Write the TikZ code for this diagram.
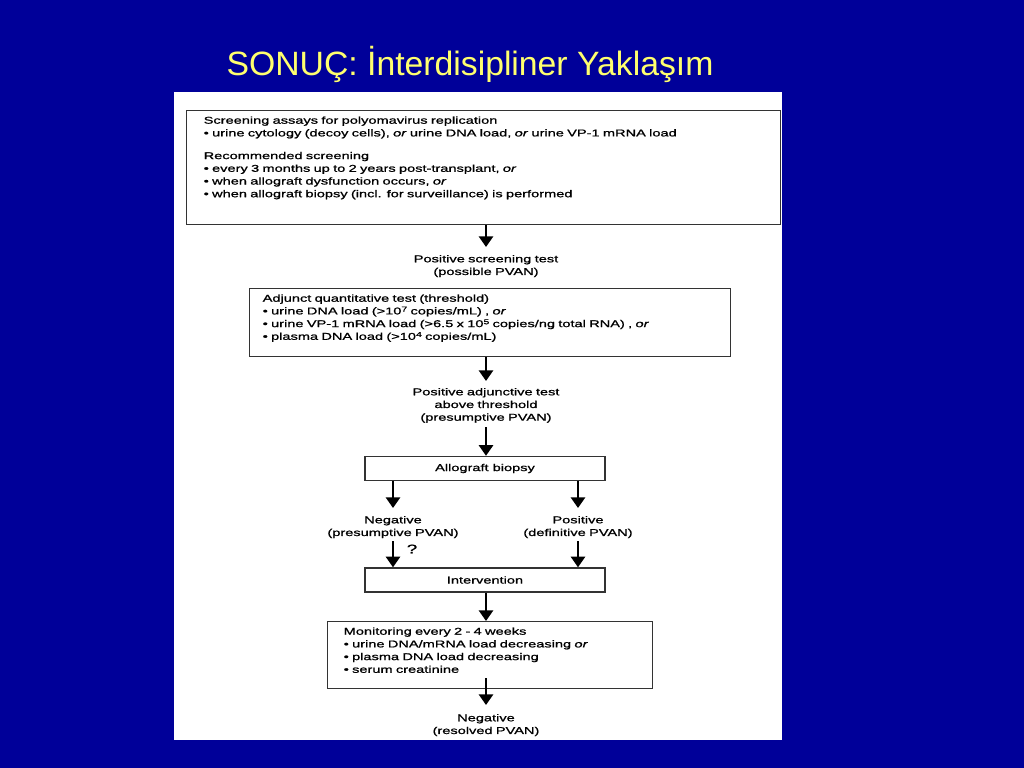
\documentclass[tikz,border=0pt]{standalone}
\usepackage{fontspec}
\usetikzlibrary{arrows.meta}
\newfontfamily\titlefont{Liberation Sans}
\newfontfamily\flowfont[FakeStretch=1.47,FakeBold=1]{Liberation Sans}
\newlength\px
\setlength\px{0.0248cm}
\definecolor{slideblue}{RGB}{0,0,153}
\definecolor{titleyellow}{RGB}{255,255,110}
\tikzset{
  slidetitle/.style={font=\titlefont\fontsize{23.8}{28}\selectfont, text=titleyellow, anchor=base, inner sep=0pt},
  txt/.style={font=\flowfont\fontsize{7}{8.96}\selectfont, inner sep=0pt},
  flowbox/.style={txt, draw=black!80, line width=1pt, anchor=north west, align=left, inner xsep=16\px, inner ysep=0pt, text height=13\px},
  smallbox/.style={txt, draw=black!80, line width=1pt, minimum width=240\px, minimum height=24\px},
  lbl/.style={txt, align=center, text width=200\px, anchor=north, text height=7\px},
  arr/.style={line width=1.5pt, -{Triangle[width=10pt,length=7.5pt]}}
}
\newcommand\supnum[1]{\raisebox{0.55ex}{\fontsize{5}{5}\selectfont #1}}
\begin{document}
\begin{tikzpicture}[x=1\px, y=-1\px]
  % slide and scanned page
  \fill[slideblue] (0,0) rectangle (1024,768);
  \fill[white] (174,92) rectangle (782,740);
  \node[slidetitle] (ttl) at (470,76) {SONUÇ: İnterdisipliner Yaklaşım};

  % boxes
  \node[flowbox, inner xsep=17\px, text width=560\px, text depth=101\px] (screen) at (186,110) {Screening assays for polyomavirus replication\\
    \textbullet\ urine cytology (decoy cells), \textit{or} urine DNA load, \textit{or} urine VP-1 mRNA load\\[10\px]
    Recommended screening\\
    \textbullet\ every 3 months up to 2 years post-transplant, \textit{or}\\
    \textbullet\ when allograft dysfunction occurs, \textit{or}\\
    \textbullet\ when allograft biopsy (incl. for surveillance) is performed};
  \node[lbl] (pos1) at (486,255) {Positive screening test\\(possible PVAN)};
  \node[flowbox, inner xsep=13\px, text width=455\px, text depth=55\px] (adj) at (249,288) {Adjunct quantitative test (threshold)\\
    \textbullet\ urine DNA load (>10\supnum{7} copies/mL) , \textit{or}\\
    \textbullet\ urine VP-1 mRNA load (>6.5 x 10\supnum{5} copies/ng total RNA) , \textit{or}\\
    \textbullet\ plasma DNA load (>10\supnum{4} copies/mL)};
  \node[lbl] (pos2) at (486,388) {Positive adjunctive test\\above threshold\\(presumptive PVAN)};
  \node[smallbox] (biop) at (485,468.5) {Allograft biopsy};
  \node[lbl] (neg) at (393,516) {Negative\\(presumptive PVAN)};
  \node[lbl] (pos) at (578,516) {Positive\\(definitive PVAN)};
  \node[txt, font=\flowfont\fontsize{9}{10}\selectfont] (q) at (412,549) {?};
  \node[smallbox] (inter) at (485,580) {Intervention};
  \node[flowbox, text width=293\px, text depth=54\px] (mon) at (327,621) {Monitoring every 2 - 4 weeks\\
    \textbullet\ urine DNA/mRNA load decreasing \textit{or}\\
    \textbullet\ plasma DNA load decreasing\\
    \textbullet\ serum creatinine};
  \node[lbl] (fin) at (486,714) {Negative\\(resolved PVAN)};

  % arrows
  \draw[arr, shorten >=8\px] (pos1.north |- screen.south) -- (pos1.north);
  \draw[arr, shorten >=7\px] (pos2.north |- adj.south) -- (pos2.north);
  \draw[arr, shorten <=4\px] (pos2.south) -- (pos2.south |- biop.north);
  \draw[arr, shorten >=8\px] (neg.north |- biop.south) -- (neg.north);
  \draw[arr, shorten >=8\px] (pos.north |- biop.south) -- (pos.north);
  \draw[arr, shorten <=3\px] (neg.south) -- (neg.south |- inter.north);
  \draw[arr, shorten <=3\px] (pos.south) -- (pos.south |- inter.north);
  \draw[arr] (inter.south -| fin.north) -- (fin.north |- mon.north);
  \draw[arr, shorten <=-11\px, shorten >=9\px] (fin.north |- mon.south) -- (fin.north);
\end{tikzpicture}
\end{document}
